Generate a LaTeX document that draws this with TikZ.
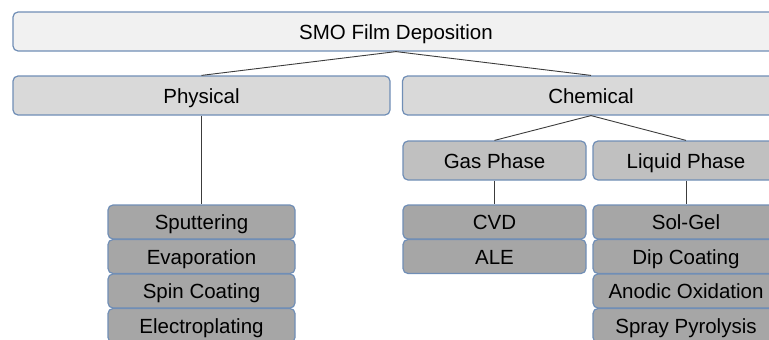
\documentclass[tikz,border=0pt]{standalone}
\usepackage{fontspec}
\setmainfont{Liberation Sans}
\definecolor{edgeblue}{RGB}{112,142,182}
\definecolor{rootfill}{RGB}{241,241,241}
\definecolor{catfill}{RGB}{217,217,217}
\definecolor{phasefill}{RGB}{192,192,192}
\definecolor{leaffill}{RGB}{166,166,166}
\definecolor{linkgray}{RGB}{60,60,60}
\tikzset{
    box/.style = {draw=edgeblue, line width=1.2pt, rounded corners=5pt, inner sep=0pt,
                  minimum height=39pt, text height=17pt, text depth=2pt,
                  font=\fontsize{20.5}{24}\selectfont},
    rootbox/.style = {box, fill=rootfill, minimum width=766pt},
    catbox/.style = {box, fill=catfill, minimum width=377pt},
    phasebox/.style = {box, fill=phasefill},
    leafbox/.style = {box, fill=leaffill, minimum height=34pt},
    link/.style = {draw=linkgray, line width=0.9pt}
}
\begin{document}
\begin{tikzpicture}[x=1pt, y=1pt]

    \clip (0,0) rectangle (769,-340);

    % top of the tree
    \node[rootbox] (root) at (396,-31.5) {SMO Film Deposition};
    \node[catbox] (phys) at (201.5,-95.5) {Physical};
    \node[catbox] (chem) at (591,-95.5) {Chemical};

    % gas / liquid split under chemical
    \node[phasebox, minimum width=183pt] (gas) at (494.5,-160.5) {Gas Phase};
    \node[phasebox, minimum width=186pt] (liq) at (686,-160.5) {Liquid Phase};

    % stacked methods
    \foreach \i/\txt in {1/Sputtering, 2/Evaporation, 3/Spin Coating, 4/Electroplating} {
        \node[leafbox, minimum width=187pt] (p\i) at (201.5,{-222-(\i-1)*34.5}) {\txt};
    } %end foreach
    \foreach \i/\txt in {1/CVD, 2/ALE} {
        \node[leafbox, minimum width=183pt] (g\i) at (494.5,{-222-(\i-1)*34.5}) {\txt};
    } %end foreach
    \foreach \i/\txt in {1/Sol-Gel, 2/Dip Coating, 3/Anodic Oxidation, 4/Spray Pyrolysis} {
        \node[leafbox, minimum width=186pt] (l\i) at (686,{-222-(\i-1)*34.5}) {\txt};
    } %end foreach

    % connectors
    \draw[link] (root.south) -- (phys.north);
    \draw[link] (root.south) -- (chem.north);
    \draw[link] (chem.south) -- (gas.north);
    \draw[link] (chem.south) -- (liq.north);
    \draw[link] (phys.south) -- (p1.north);
    \draw[link] (gas.south) -- (g1.north);
    \draw[link] (liq.south) -- (l1.north);

\end{tikzpicture}
\end{document}
